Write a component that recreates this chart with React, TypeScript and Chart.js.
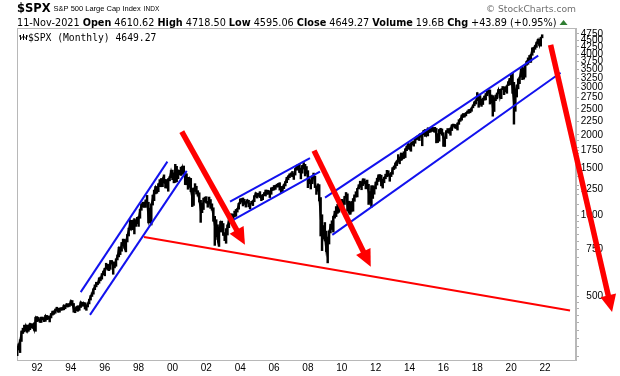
import React, { useEffect, useRef } from 'react';
import { Chart, registerables } from 'chart.js';

Chart.register(...registerables);

// ---- Data: S&P 500 monthly bars, Nov 1990 .. Nov 2021 ----
const START_YEAR = 1990;
const START_MONTH = 10; // November (0-based)

const closes = [
  322.2, 330.2,
  343.9, 367.1, 375.2, 375.3, 389.8, 371.2, 387.8, 395.4, 387.9, 392.5, 375.2, 417.1,
  408.8, 412.7, 403.7, 415.0, 415.4, 408.1, 424.2, 414.0, 417.8, 418.7, 431.4, 435.7,
  438.8, 443.4, 451.7, 440.2, 450.2, 450.5, 448.1, 463.6, 458.9, 467.8, 461.8, 466.5,
  481.6, 467.1, 445.8, 450.9, 456.5, 444.3, 458.3, 475.5, 462.7, 472.4, 453.7, 459.3,
  470.4, 487.4, 500.7, 514.7, 533.4, 544.8, 562.1, 561.9, 584.4, 581.5, 605.4, 615.9,
  636.0, 640.4, 645.5, 654.2, 669.1, 670.6, 640.0, 652.0, 687.3, 705.3, 757.0, 740.7,
  786.2, 790.8, 757.1, 801.3, 848.3, 885.1, 954.3, 899.5, 947.3, 914.6, 955.4, 970.4,
  980.3, 1049.3, 1101.8, 1111.8, 1090.8, 1133.8, 1120.7, 957.3, 1017.0, 1098.7, 1163.6, 1229.2,
  1279.6, 1238.3, 1286.4, 1335.2, 1301.8, 1372.7, 1328.7, 1320.4, 1282.7, 1362.9, 1388.9, 1469.3,
  1394.5, 1366.4, 1498.6, 1452.4, 1420.6, 1454.6, 1430.8, 1517.7, 1436.5, 1429.4, 1315.0, 1320.3,
  1366.0, 1239.9, 1160.3, 1249.5, 1255.8, 1224.4, 1211.2, 1133.6, 1040.9, 1059.8, 1139.5, 1148.1,
  1130.2, 1106.7, 1147.4, 1076.9, 1067.1, 989.8, 911.6, 916.1, 815.3, 885.8, 936.3, 879.8,
  855.7, 841.2, 848.2, 916.9, 963.6, 974.5, 990.3, 1008.0, 996.0, 1050.7, 1058.2, 1111.9,
  1131.1, 1144.9, 1126.2, 1107.3, 1120.7, 1140.8, 1101.7, 1104.2, 1114.6, 1130.2, 1173.8, 1211.9,
  1181.3, 1203.6, 1180.6, 1156.9, 1191.5, 1191.3, 1234.2, 1220.3, 1228.8, 1207.0, 1249.5, 1248.3,
  1280.1, 1280.7, 1294.9, 1310.6, 1270.1, 1270.2, 1276.7, 1303.8, 1335.9, 1377.9, 1400.6, 1418.3,
  1438.2, 1406.8, 1420.9, 1482.4, 1530.6, 1503.4, 1455.3, 1474.0, 1526.8, 1549.4, 1481.1, 1468.4,
  1378.6, 1330.6, 1322.7, 1385.6, 1400.4, 1280.0, 1267.4, 1282.8, 1166.4, 968.8, 896.2, 903.3,
  825.9, 735.1, 797.9, 872.8, 919.1, 919.3, 987.5, 1020.6, 1057.1, 1036.2, 1095.6, 1115.1,
  1073.9, 1104.5, 1169.4, 1186.7, 1089.4, 1030.7, 1101.6, 1049.3, 1141.2, 1183.3, 1180.6, 1257.6,
  1286.1, 1327.2, 1325.8, 1363.6, 1345.2, 1320.6, 1292.3, 1218.9, 1131.4, 1253.3, 1247.0, 1257.6,
  1312.4, 1365.7, 1408.5, 1397.9, 1310.3, 1362.2, 1379.3, 1406.6, 1440.7, 1412.2, 1416.2, 1426.2,
  1498.1, 1514.7, 1569.2, 1597.6, 1630.7, 1606.3, 1685.7, 1633.0, 1681.6, 1756.5, 1805.8, 1848.4,
  1782.6, 1859.5, 1872.3, 1884.0, 1923.6, 1960.2, 1930.7, 2003.4, 1972.3, 2018.1, 2067.6, 2058.9,
  1995.0, 2104.5, 2067.9, 2085.5, 2107.4, 2063.1, 2103.8, 1972.2, 1920.0, 2079.4, 2080.4, 2043.9,
  1940.2, 1932.2, 2059.7, 2065.3, 2097.0, 2098.9, 2173.6, 2171.0, 2168.3, 2126.2, 2198.8, 2238.8,
  2278.9, 2363.6, 2362.7, 2384.2, 2411.8, 2423.4, 2470.3, 2471.7, 2519.4, 2575.3, 2647.6, 2673.6,
  2823.8, 2713.8, 2640.9, 2648.1, 2705.3, 2718.4, 2816.3, 2901.5, 2914.0, 2711.7, 2760.2, 2506.9,
  2704.1, 2784.5, 2834.4, 2945.8, 2752.1, 2941.8, 2980.4, 2926.5, 2976.7, 3037.6, 3141.0, 3230.8,
  3225.5, 2954.2, 2584.6, 2912.4, 3044.3, 3100.3, 3271.1, 3500.3, 3363.0, 3270.0, 3621.6, 3756.1,
  3714.2, 3811.2, 3972.9, 4181.2, 4204.1, 4297.5, 4395.3, 4522.7, 4307.5, 4605.4, 4649.3,
];

const highs = [
  325, 333,
  345, 372, 381, 391, 391, 391, 391, 396, 396, 395, 399, 418,
  421, 418, 413, 419, 419, 415, 425, 425, 423, 420, 432, 441,
  442, 449, 456, 452, 453, 454, 455, 464, 464, 470, 469, 471,
  482, 483, 471, 453, 458, 462, 459, 477, 476, 474, 474, 465,
  473, 488, 504, 516, 534, 552, 565, 565, 586, 591, 608, 622,
  637, 665, 659, 656, 681, 681, 673, 671, 690, 714, 762, 765,
  795, 818, 817, 811, 851, 899, 961, 961, 960, 975, 965, 986,
  992, 1055, 1106, 1123, 1122, 1145, 1190, 1122, 1067, 1106, 1193, 1245,
  1285, 1282, 1316, 1362, 1375, 1374, 1419, 1365, 1361, 1374, 1397, 1473,
  1478, 1444, 1553, 1527, 1481, 1475, 1517, 1525, 1531, 1440, 1432, 1389,
  1384, 1377, 1263, 1269, 1316, 1287, 1239, 1217, 1141, 1110, 1163, 1173,
  1177, 1131, 1173, 1148, 1107, 1070, 994, 966, 925, 907, 952, 954,
  935, 865, 895, 924, 965, 1016, 1016, 1011, 1040, 1054, 1063, 1112,
  1155, 1159, 1164, 1150, 1128, 1146, 1141, 1110, 1131, 1138, 1188, 1217,
  1212, 1212, 1229, 1192, 1200, 1219, 1246, 1245, 1243, 1233, 1270, 1276,
  1295, 1298, 1310, 1318, 1327, 1285, 1283, 1306, 1340, 1390, 1407, 1431,
  1441, 1461, 1438, 1499, 1535, 1541, 1556, 1504, 1539, 1576, 1553, 1524,
  1471, 1397, 1360, 1404, 1441, 1404, 1292, 1314, 1305, 1168, 1008, 919,
  943, 876, 832, 878, 930, 957, 996, 1039, 1081, 1102, 1113, 1130,
  1150, 1113, 1181, 1220, 1206, 1132, 1120, 1130, 1158, 1196, 1228, 1263,
  1303, 1344, 1333, 1370, 1371, 1346, 1357, 1308, 1230, 1293, 1293, 1270,
  1334, 1378, 1420, 1423, 1415, 1364, 1392, 1427, 1475, 1470, 1434, 1448,
  1510, 1530, 1571, 1598, 1688, 1654, 1710, 1709, 1730, 1776, 1814, 1850,
  1851, 1868, 1884, 1897, 1925, 1968, 1991, 2006, 2019, 2019, 2076, 2094,
  2065, 2120, 2118, 2126, 2135, 2130, 2133, 2113, 2021, 2094, 2116, 2104,
  2038, 1963, 2073, 2111, 2103, 2121, 2178, 2194, 2188, 2169, 2214, 2278,
  2301, 2371, 2401, 2398, 2418, 2454, 2484, 2491, 2520, 2582, 2657, 2695,
  2873, 2835, 2801, 2718, 2743, 2791, 2848, 2916, 2941, 2940, 2816, 2800,
  2708, 2813, 2860, 2950, 2955, 2965, 3028, 3014, 3022, 3050, 3155, 3248,
  3338, 3394, 3137, 2955, 3068, 3233, 3280, 3514, 3588, 3550, 3646, 3760,
  3870, 3951, 3984, 4219, 4238, 4302, 4430, 4537, 4546, 4608, 4719,
];

const lows = [
  301, 316,
  309, 340, 364, 369, 372, 368, 371, 376, 382, 380, 374, 371,
  403, 405, 401, 400, 409, 403, 404, 410, 411, 402, 416, 426,
  429, 433, 441, 437, 437, 444, 445, 446, 450, 457, 457, 459,
  464, 464, 437, 435, 442, 441, 444, 455, 462, 460, 449, 444,
  457, 469, 485, 500, 510, 530, 543, 553, 560, 572, 580, 603,
  597, 634, 627, 624, 631, 661, 605, 639, 648, 684, 702, 716,
  737, 772, 756, 733, 798, 840, 883, 898, 886, 855, 912, 933,
  912, 978, 1047, 1076, 1074, 1074, 1114, 940, 939, 923, 1095, 1137,
  1205, 1212, 1228, 1282, 1281, 1282, 1323, 1268, 1268, 1233, 1348, 1385,
  1361, 1325, 1329, 1339, 1373, 1420, 1412, 1425, 1429, 1305, 1303, 1254,
  1274, 1228, 1081, 1092, 1232, 1203, 1182, 1124, 944, 1026, 1054, 1123,
  1114, 1075, 1106, 1064, 1048, 953, 775, 834, 815, 768, 869, 874,
  844, 807, 789, 847, 902, 951, 960, 960, 994, 995, 1031, 1057,
  1106, 1122, 1087, 1107, 1076, 1114, 1078, 1060, 1103, 1090, 1127, 1173,
  1163, 1179, 1168, 1137, 1147, 1188, 1183, 1201, 1201, 1168, 1201, 1245,
  1245, 1253, 1277, 1280, 1245, 1219, 1224, 1261, 1290, 1327, 1360, 1385,
  1403, 1396, 1364, 1416, 1476, 1484, 1447, 1371, 1439, 1490, 1406, 1435,
  1271, 1316, 1257, 1315, 1373, 1272, 1200, 1234, 1134, 840, 741, 818,
  805, 735, 667, 784, 862, 888, 869, 979, 992, 1020, 1029, 1086,
  1071, 1045, 1101, 1170, 1040, 1028, 1011, 1040, 1039, 1131, 1173, 1174,
  1257, 1276, 1249, 1294, 1312, 1258, 1283, 1101, 1115, 1075, 1159, 1202,
  1258, 1300, 1340, 1358, 1292, 1267, 1326, 1372, 1396, 1403, 1343, 1398,
  1426, 1485, 1501, 1536, 1581, 1560, 1605, 1627, 1633, 1646, 1746, 1768,
  1770, 1737, 1834, 1815, 1860, 1915, 1930, 1904, 1964, 1821, 2001, 1973,
  1988, 1981, 2039, 2048, 2067, 2057, 2044, 1867, 1872, 1894, 2019, 1993,
  1812, 1810, 1937, 2039, 2026, 1992, 2075, 2148, 2119, 2114, 2084, 2188,
  2245, 2268, 2322, 2329, 2353, 2403, 2407, 2417, 2447, 2521, 2566, 2605,
  2682, 2533, 2586, 2553, 2594, 2691, 2699, 2796, 2864, 2604, 2631, 2347,
  2443, 2681, 2722, 2848, 2751, 2728, 2952, 2822, 2892, 2856, 3050, 3070,
  3214, 2855, 2192, 2447, 2766, 2966, 3101, 3284, 3210, 3234, 3279, 3633,
  3663, 3725, 3723, 3956, 4057, 4165, 4234, 4367, 4306, 4279, 4595,
];

// axis ticks
const xTickYears = [1992, 1994, 1996, 1998, 2000, 2002, 2004, 2006, 2008, 2010, 2012, 2014, 2016, 2018, 2020, 2022];
const yLabelValues = [500, 750, 1000, 1250, 1500, 1750, 2000, 2250, 2500, 2750, 3000, 3250, 3500, 3750, 4000, 4250, 4500, 4750];
const yMinorValues = [300, 325, 350, 375, 400, 425, 450, 475, 550, 600, 650, 700, 800, 850, 900, 950, 1100, 1200, 1300, 1400, 1600, 1700, 1800, 1900];
const X_MIN = 1990.819;
const X_MAX = 2023.831;
const Y_MIN = 290;
const Y_MAX = 5000;

// annotations in data coordinates: [year, price]
const blueChannels = [
  [[1994.58, 519], [1999.7, 1590]],
  [[1995.13, 427], [2000.84, 1468]],
  [[2003.4, 1128], [2008.12, 1637]],
  [[2003.59, 965], [2008.71, 1459]],
  [[2009.01, 1168], [2021.6, 3943]],
  [[2009.44, 848], [2022.92, 3408]],
];
const redTrend = [[1998.32, 832], [2023.48, 443]];
const redArrows = [
  [[2000.55, 2056], [2004.28, 779]],
  [[2008.36, 1747], [2011.71, 645]],
  [[2022.33, 4322], [2025.96, 438]],
];

const header = {
  symbol: '$SPX',
  name: 'S&P 500 Large Cap Index',
  exch: 'INDX',
  date: '11-Nov-2021',
  fields: [['Open', '4610.62'], ['High', '4718.50'], ['Low', '4595.06'], ['Close', '4649.27'], ['Volume', '19.6B'], ['Chg', '+43.89 (+0.95%)']],
  legend: '$SPX (Monthly) 4649.27',
  brand: '\u00A9 StockCharts.com',
};

const BLUE = '#1212ee';
const RED = '#ff0000';
const FRAME = '#b8b8b8';
const SANS = '"DejaVu Sans", sans-serif';
const ARIAL = '"Liberation Sans", Arial, sans-serif';

const decorPlugin = {
  id: 'decor',
  beforeDatasetsDraw(chart: any) {
    const { ctx, chartArea } = chart;
    ctx.save();
    ctx.strokeStyle = FRAME;
    ctx.lineWidth = 1;
    ctx.strokeRect(Math.round(chartArea.left) + 0.5, Math.round(chartArea.top) + 0.5,
      Math.round(chartArea.right - chartArea.left) - 1, Math.round(chartArea.bottom - chartArea.top));
    ctx.restore();
  },
  afterDraw(chart: any) {
    const { ctx, chartArea } = chart;
    const xs = chart.scales.x;
    const ys = chart.scales.y;
    ctx.save();
    // arrows
    redArrows.forEach(([[x1, y1], [x2, y2]]) => {
      const px1 = xs.getPixelForValue(x1), py1 = ys.getPixelForValue(y1);
      const px2 = xs.getPixelForValue(x2), py2 = ys.getPixelForValue(y2);
      const a = Math.atan2(py2 - py1, px2 - px1);
      const headLen = 17, half = 8;
      const bx = px2 - headLen * Math.cos(a), by = py2 - headLen * Math.sin(a);
      ctx.strokeStyle = RED;
      ctx.lineWidth = 5.5;
      ctx.lineCap = 'butt';
      ctx.beginPath();
      ctx.moveTo(px1, py1);
      ctx.lineTo(bx + 2 * Math.cos(a), by + 2 * Math.sin(a));
      ctx.stroke();
      ctx.fillStyle = RED;
      ctx.beginPath();
      ctx.moveTo(px2, py2);
      ctx.lineTo(bx + half * Math.sin(a), by - half * Math.cos(a));
      ctx.lineTo(bx - half * Math.sin(a), by + half * Math.cos(a));
      ctx.closePath();
      ctx.fill();
    });

    // header line 1
    const left = chartArea.left;
    ctx.fillStyle = '#000';
    ctx.textBaseline = 'alphabetic';
    ctx.textAlign = 'left';
    let x = left;
    ctx.font = `bold 11.5px ${SANS}`;
    ctx.fillText(header.symbol, x, 11.5);
    x += ctx.measureText(header.symbol).width + 3;
    ctx.font = `7.5px ${ARIAL}`;
    ctx.fillText(header.name, x, 11);
    x += ctx.measureText(header.name).width + 3;
    ctx.font = `6.5px ${ARIAL}`;
    ctx.fillText(header.exch, x, 11);

    // header line 2
    const fs = 9.7;
    x = left;
    ctx.font = `${fs}px ${SANS}`;
    ctx.fillText(header.date, x, 26);
    x += ctx.measureText(header.date + ' ').width;
    header.fields.forEach(([k, v]) => {
      ctx.font = `bold ${fs}px ${SANS}`;
      ctx.fillText(k, x, 26);
      x += ctx.measureText(k).width + 3;
      ctx.font = `${fs}px ${SANS}`;
      ctx.fillText(v, x, 26);
      x += ctx.measureText(v + ' ').width;
    });
    ctx.fillStyle = '#2f7d32';
    ctx.beginPath();
    ctx.moveTo(x, 25);
    ctx.lineTo(x + 8, 25);
    ctx.lineTo(x + 4, 20);
    ctx.closePath();
    ctx.fill();

    // brand
    ctx.fillStyle = '#707070';
    ctx.textAlign = 'right';
    ctx.font = `9.2px ${SANS}`;
    ctx.fillText(header.brand, chartArea.right, 11.5);

    // legend icon + text
    ctx.strokeStyle = '#000';
    ctx.lineWidth = 1;
    const iy = 34;
    [0, 3, 6].forEach((dx, i) => {
      const ix = left + 3.5 + dx;
      ctx.beginPath();
      ctx.moveTo(ix, iy + (i === 1 ? 0 : 1));
      ctx.lineTo(ix, iy + 6);
      ctx.moveTo(ix - 1.5, iy + 2 + i);
      ctx.lineTo(ix, iy + 2 + i);
      ctx.moveTo(ix, iy + 4 - i);
      ctx.lineTo(ix + 1.5, iy + 4 - i);
      ctx.stroke();
    });
    ctx.fillStyle = '#000';
    ctx.textAlign = 'left';
    ctx.font = `9.7px "DejaVu Sans Mono", monospace`;
    ctx.fillText(header.legend, left + 11, 41);
    ctx.restore();
  },
};

export default function App() {
  const ref = useRef<HTMLCanvasElement | null>(null);
  useEffect(() => {
    if (!ref.current) return;
    const monthX = closes.map((_, i) => START_YEAR + (START_MONTH + i) / 12);
    const line = (pts: number[][], color: string, width: number) => ({
      type: 'line',
      data: pts.map(([x, y]) => ({ x, y })),
      borderColor: color,
      borderWidth: width,
      pointRadius: 0,
      fill: false,
      tension: 0,
    });
    const chart = new Chart(ref.current, {
      type: 'line',
      data: {
        datasets: [
          ...blueChannels.map((p) => line(p, BLUE, 2)),
          line(redTrend, RED, 2),
          {
            type: 'line',
            data: closes.map((c, i) => ({ x: monthX[i], y: c })),
            borderColor: '#000',
            borderWidth: 1.6,
            pointRadius: 0,
            tension: 0,
          },
          {
            type: 'bar',
            data: lows.map((l, i) => ({ x: monthX[i], y: [l, highs[i]] })),
            backgroundColor: '#000',
            borderWidth: 0,
            barThickness: 1.8,
            grouped: false,
          },
        ] as any,
      },
      options: {
        responsive: false,
        animation: false,
        events: [],
        layout: { padding: { left: 17, top: 28, right: 17, bottom: 0 } },
        plugins: { legend: { display: false }, tooltip: { enabled: false } },
        scales: {
          x: {
            type: 'linear',
            min: X_MIN,
            max: X_MAX,
            offset: false,
            afterBuildTicks: (s: any) => { s.ticks = xTickYears.map((v) => ({ value: v })); },
            afterFit: (s: any) => { s.height = 16; },
            grid: { drawOnChartArea: false, drawTicks: false, offset: false },
            border: { color: FRAME },
            ticks: {
              autoSkip: false,
              maxRotation: 0,
              padding: 2,
              color: '#000',
              font: { family: ARIAL, size: 10 },
              callback: (v: any) => String(Math.round(v) % 100).padStart(2, '0'),
            },
          },
          y: {
            type: 'logarithmic',
            position: 'right',
            min: Y_MIN,
            max: Y_MAX,
            afterBuildTicks: (s: any) => {
              s.ticks = [...yMinorValues, ...yLabelValues].sort((a, b) => a - b).map((v) => ({ value: v }));
            },
            afterFit: (s: any) => { s.width = 27; },
            grid: { drawOnChartArea: false, drawTicks: true, tickLength: 3, color: '#b0b0b0' },
            border: { color: FRAME },
            ticks: {
              autoSkip: false,
              padding: 2,
              crossAlign: 'far',
              color: '#000',
              font: { family: ARIAL, size: 10 },
              callback: (v: any) => (yLabelValues.includes(Number(v)) ? String(v) : ''),
            },
          },
        },
      } as any,
      plugins: [decorPlugin],
    });
    return () => chart.destroy();
  }, []);
  return (
    <div style={{ position: 'absolute', left: 0, top: 0, width: 620, height: 376, background: '#fff' }}>
      <canvas ref={ref} width={620} height={376} />
    </div>
  );
}
